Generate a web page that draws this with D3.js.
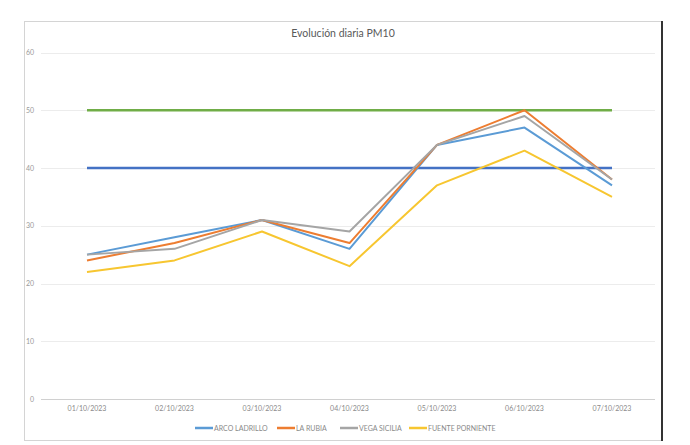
<!DOCTYPE html>
<html><head><meta charset="utf-8">
<script src="https://cdn.jsdelivr.net/npm/d3@7"></script>
<style>body{margin:0;background:#fff}svg{display:block}</style>
</head><body>
<svg id="c" width="690" height="445"></svg>
<script>
const categories = ["01/10/2023","02/10/2023","03/10/2023","04/10/2023","05/10/2023","06/10/2023","07/10/2023"];
const seriesNames = ["ARCO LADRILLO","LA RUBIA","VEGA SICILIA","FUENTE PORNIENTE"];
const arcoLadrillo = [25, 28, 31, 26, 44, 47, 37];
const laRubia      = [24, 27, 31, 27, 44, 50, 38];
const vegaSicilia  = [25, 26, 31, 29, 44, 49, 38];
const fuentePorniente = [22, 24, 29, 23, 37, 43, 35];
const limit50 = [50, 50, 50, 50, 50, 50, 50];
const limit40 = [40, 40, 40, 40, 40, 40, 40];
const yTicks = [0, 10, 20, 30, 40, 50, 60];
const seriesColors = ["#5b9bd5","#ed7d31","#a5a5a5","#f7c630"];

const svg = d3.select("#c");
const font = "Lato, 'Open Sans', sans-serif";

// chart frame
svg.append("rect").attr("x",24.5).attr("y",21.5).attr("width",637).attr("height",419)
  .attr("fill","#fff").attr("stroke","#d4d4d4").attr("stroke-width",1);
svg.append("line").attr("x1",662).attr("x2",662).attr("y1",21).attr("y2",441)
  .attr("stroke","#333").attr("stroke-width",2);

const x = d3.scalePoint().domain(categories).range([87, 612]);
const y = d3.scaleLinear().domain([0, 60]).range([399, 52.5]);

// gridlines
svg.append("g").selectAll("line").data(yTicks).join("line")
  .attr("x1",41).attr("x2",655)
  .attr("y1",d=>Math.round(y(d))+0.5).attr("y2",d=>Math.round(y(d))+0.5)
  .attr("stroke",d=>d===0?"#d0d0d0":"#ececec").attr("stroke-width",1);

// y labels
svg.append("g").selectAll("text").data(yTicks).join("text")
  .attr("x",34).attr("y",d=>y(d)+2.5).attr("text-anchor","end")
  .attr("font-family",font).attr("font-size",7).attr("fill","#9a9a9a")
  .text(d=>d);

// x labels
svg.append("g").selectAll("text").data(categories).join("text")
  .attr("x",d=>x(d)).attr("y",411).attr("text-anchor","middle")
  .attr("font-family",font).attr("font-size",7).attr("fill","#8a8a8a")
  .text(d=>d);

// title
svg.append("text").attr("x",343).attr("y",37).attr("text-anchor","middle")
  .attr("font-family",font).attr("font-size",10.5).attr("fill","#595959")
  .text("Evolución diaria PM10");

const line = d3.line().x((d,i)=>x(categories[i])).y(d=>y(d));

// threshold lines
svg.append("path").datum(limit50).attr("d",line).attr("fill","none")
  .attr("stroke","#70ad47").attr("stroke-width",2.5);
svg.append("path").datum(limit40).attr("d",line).attr("fill","none")
  .attr("stroke","#4472c4").attr("stroke-width",2.5);

const seriesData = [arcoLadrillo, laRubia, vegaSicilia, fuentePorniente];
svg.append("g").selectAll("path").data(seriesData).join("path")
  .attr("d",line).attr("fill","none")
  .attr("stroke",(d,i)=>seriesColors[i]).attr("stroke-width",2)
  .attr("stroke-linejoin","round");

// legend
const legendX = [195, 277, 340, 409];
const lg = svg.append("g").selectAll("g").data(seriesNames).join("g")
  .attr("transform",(d,i)=>`translate(${legendX[i]},428)`);
lg.append("line").attr("x1",0).attr("x2",18).attr("y1",0).attr("y2",0)
  .attr("stroke",(d,i)=>seriesColors[i]).attr("stroke-width",2.5);
lg.append("text").attr("x",19).attr("y",2.5)
  .attr("font-family",font).attr("font-size",7).attr("fill","#8a8a8a")
  .text(d=>d);
</script>
</body></html>
